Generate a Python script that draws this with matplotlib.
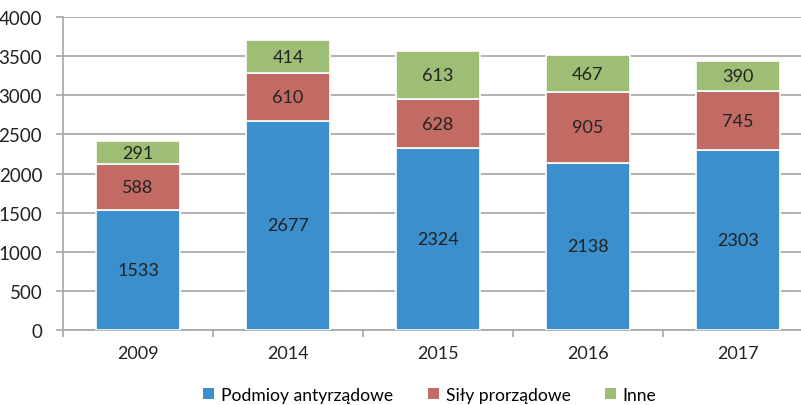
import matplotlib
matplotlib.use("Agg")
import matplotlib.pyplot as plt
import numpy as np
from matplotlib.patches import Patch

years = ["2009", "2014", "2015", "2016", "2017"]
anti = [1533, 2677, 2324, 2138, 2303]
pro = [588, 610, 628, 905, 745]
inne = [291, 414, 613, 467, 390]
labels = ["Podmioy antyrządowe", "Siły prorządowe", "Inne"]
colors = ["#3A8FCC", "#C26B64", "#9DBE74"]

plt.rcParams['font.family'] = ['Lato', 'DejaVu Sans']
FS = 13

fig = plt.figure(figsize=(8.01, 4.06), dpi=100)
ax = fig.add_axes([63/801, 75/406, 750/801, 313/406])

x = np.arange(len(years))
w = 0.56
bottom = np.zeros(len(years))
for vals, c in zip([anti, pro, inne], colors):
    ax.bar(x, vals, w, bottom=bottom, color=c, edgecolor="white", linewidth=1.2, zorder=3)
    for xi, b, v in zip(x, bottom, vals):
        ax.text(xi, b + v / 2, str(v), ha="center", va="center", fontsize=FS, color="#222222", zorder=4)
    bottom += np.array(vals)

ax.set_xlim(-0.5, len(years) - 0.5)
ax.set_ylim(0, 4000)
ax.set_yticks(np.arange(0, 4001, 500))
ax.set_yticklabels([str(v) for v in range(0, 4001, 500)], fontsize=13.5, color="#222222")
ax.grid(axis="y", color="#A6A6A6", linewidth=1.2, zorder=0)
ax.set_axisbelow(True)

ax.set_xticks(x)
ax.set_xticklabels(years, fontsize=FS, color="#222222")
ax.set_xticks(np.arange(-0.5, len(years), 1), minor=True)
ax.tick_params(axis="x", which="major", length=0, pad=11)
ax.tick_params(axis="x", which="minor", length=5, color="#A6A6A6", width=1.2)
ax.tick_params(axis="y", length=5, color="#A6A6A6", width=1.2, pad=10)

for s in ["top", "right"]:
    ax.spines[s].set_visible(False)
for s in ["left", "bottom"]:
    ax.spines[s].set_color("#A6A6A6")
    ax.spines[s].set_linewidth(1.2)

handles = [Patch(facecolor=c, edgecolor="none") for c in colors]
fig.legend(handles, labels, loc="center", bbox_to_anchor=(430/801, 1 - 396/406), ncol=3,
           frameon=False, fontsize=12.6, handlelength=0.6, handleheight=0.6,
           handletextpad=0.4, columnspacing=2.0)

fig.savefig("out.png", dpi=100)
